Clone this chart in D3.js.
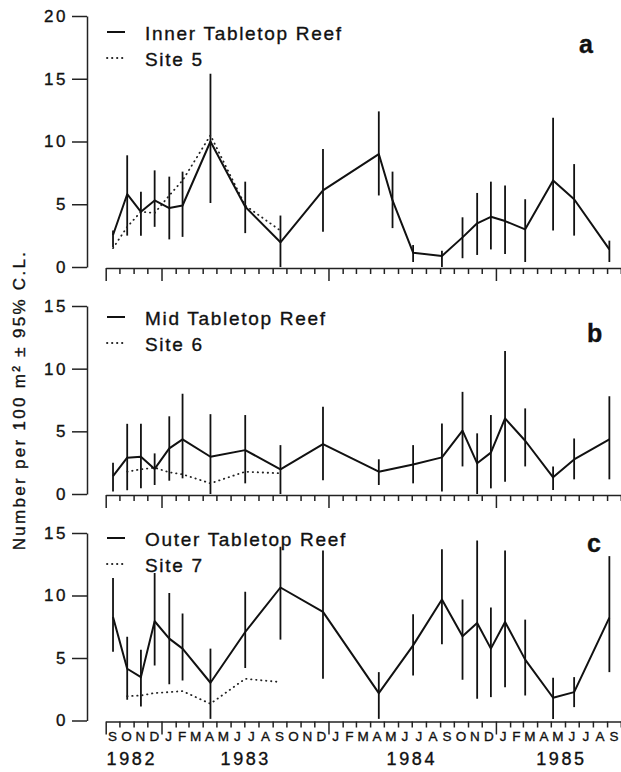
<!DOCTYPE html>
<html>
<head>
<meta charset="utf-8">
<title>Tabletop Reef</title>
<script src="https://d3js.org/d3.v7.min.js"></script>
<style>
  body { margin: 0; background: #fff; }
  svg text { font-family: "Liberation Sans", Arial, sans-serif; fill: #111; stroke: #111; stroke-width: 0.35px; }
</style>
</head>
<body>
<script>
  // sampling dates
  var datesInner = ["1982-09-17","1982-10-18","1982-11-17","1982-12-17","1983-01-18","1983-02-16",
                    "1983-04-18","1983-07-03","1983-09-18","1983-12-20","1984-04-20","1984-05-20",
                    "1984-07-04","1984-09-05","1984-10-20","1984-11-21","1984-12-21","1985-01-21",
                    "1985-03-06","1985-05-06","1985-06-21","1985-09-06"];
  var datesReef = ["1982-09-17","1982-10-18","1982-11-17","1982-12-17","1983-01-18","1983-02-16",
                   "1983-04-18","1983-07-03","1983-09-18","1983-12-20","1984-04-20",
                   "1984-07-04","1984-09-05","1984-10-20","1984-11-21","1984-12-21","1985-01-21",
                   "1985-03-06","1985-05-06","1985-06-21","1985-09-06"];
  var datesSite5 = ["1982-09-17","1982-10-18","1982-11-17","1982-12-17","1983-01-18","1983-02-16",
                    "1983-04-18","1983-07-03","1983-09-18"];
  var datesSite67 = ["1982-10-18","1982-11-17","1982-12-17","1983-01-18","1983-02-16",
                     "1983-04-18","1983-07-03","1983-09-18"];

  // a - Inner Tabletop Reef
  var innerMean = [2.55,5.8,4.4,5.3,4.7,4.9,10.0,4.8,1.97,6.1,9.0,5.3,1.14,0.88,2.36,3.48,4.0,3.66,3.0,6.9,5.4,1.4];
  var innerLow  = [1.6,2.5,2.5,3.2,2.2,2.4,5.1,2.7,0,2.8,5.7,3.1,0.4,0,0.7,0.96,1.4,1.03,0.4,2.9,2.5,0.4];
  var innerHigh = [2.9,8.9,6.0,7.7,7.2,7.6,15.4,6.8,4.1,9.4,12.4,7.6,1.75,1.3,3.96,5.9,6.8,6.5,5.4,11.9,8.2,2.1];
  var site5     = [1.5,3.2,4.4,4.3,5.7,6.9,10.5,4.9,2.9];

  // b - Mid Tabletop Reef
  var midMean = [1.43,2.9,2.97,2.0,3.64,4.36,2.97,3.5,1.97,3.98,1.78,2.36,2.92,5.05,2.45,3.3,6.03,4.25,1.33,2.76,4.36];
  var midLow  = [0.2,0.3,0.45,0.72,1.06,1.25,0,0.85,0,1.1,0.72,0.85,0.2,2.2,0,0.45,0.98,2.2,0.32,1.17,1.17];
  var midHigh = [2.5,5.6,5.6,3.24,6.2,8.0,6.37,6.3,3.9,6.96,2.77,3.9,5.63,8.15,4.84,6.3,11.4,6.83,2.2,4.43,7.8];
  var site6   = [1.78,1.97,2.1,1.73,1.57,0.85,1.78,1.65];

  // c - Outer Tabletop Reef
  var outerMean = [8.28,4.14,3.47,7.94,6.55,5.75,3.02,7.08,10.64,8.69,2.19,6.01,9.68,6.74,7.8,5.75,7.88,4.87,1.82,2.27,8.23];
  var outerLow  = [5.5,1.66,1.12,4.4,2.9,3.2,0.13,4.2,6.47,3.34,0.13,3.6,6.1,3.26,1.74,1.87,2.67,2.0,0.13,1.07,3.87];
  var outerHigh = [11.4,6.7,5.67,11.8,10.2,8.56,5.75,10.3,13.9,13.6,3.87,8.5,13.7,9.68,14.4,9.04,13.6,8.07,3.42,3.47,13.15];
  var site7     = [1.95,2.0,2.2,2.27,2.35,1.34,3.34,3.07];

  var yearLabels = ["1982","1983","1984","1985"];
  var yearDates  = ["1982-09-03","1983-05-10","1984-05-07","1985-03-30"];

  var parse = d3.timeParse("%Y-%m-%d");
  var start = new Date(1982, 8, 1), end = new Date(1985, 9, 1);

  var width = 621, height = 772;
  var svg = d3.select("body").append("svg")
      .attr("width", width)
      .attr("height", height);

  var x = d3.scaleTime().domain([start, end]).range([105.7, 620.8]);

  var panels = [
    {letter:"a", name:"Inner Tabletop Reef", site:"Site 5", dates:datesInner, mean:innerMean, lo:innerLow, hi:innerHigh,
     siteDates:datesSite5, siteVals:site5, yMax:20, top:16, bottom:267, legendY:32, letterX:579, letterY:53},
    {letter:"b", name:"Mid Tabletop Reef", site:"Site 6", dates:datesReef, mean:midMean, lo:midLow, hi:midHigh,
     siteDates:datesSite67, siteVals:site6, yMax:15, top:306, bottom:494, legendY:317, letterX:587, letterY:342},
    {letter:"c", name:"Outer Tabletop Reef", site:"Site 7", dates:datesReef, mean:outerMean, lo:outerLow, hi:outerHigh,
     siteDates:datesSite67, siteVals:site7, yMax:15, top:533, bottom:720.5, legendY:538, letterX:587, letterY:552}
  ];

  panels.forEach(function(p, pi) {
    var y = d3.scaleLinear().domain([0, p.yMax]).range([p.bottom, p.top]);
    var g = svg.append("g");

    // y axis
    var ya = g.append("g")
        .attr("transform", "translate(87,0)")
        .call(d3.axisLeft(y).tickValues(d3.range(0, p.yMax + 1, 5)).tickSize(15).tickSizeOuter(0).tickPadding(4));
    ya.selectAll("path, line").attr("stroke", "#222").attr("stroke-width", 1.5);
    ya.selectAll("text").attr("font-size", 17).style("letter-spacing", "2.5px").attr("fill", "#111");

    // x axis, ticks at month boundaries, long ones at year starts
    var xa = g.append("g")
        .attr("transform", "translate(0," + (p.bottom + 1) + ")")
        .call(d3.axisBottom(x).ticks(d3.timeMonth.every(1)).tickSize(6).tickSizeOuter(0).tickFormat(""));
    xa.selectAll("path, line").attr("stroke", "#222").attr("stroke-width", 1.5);
    xa.selectAll(".tick line").attr("y2", function(d) {
      return (d.getMonth() === 0 || +d === +start) ? 13 : 6;
    });

    // error bars
    g.selectAll(".bar").data(p.dates).enter().append("line")
        .attr("x1", function(d) { return x(parse(d)); })
        .attr("x2", function(d) { return x(parse(d)); })
        .attr("y1", function(d, i) { return y(p.lo[i]); })
        .attr("y2", function(d, i) { return y(p.hi[i]); })
        .attr("stroke", "#111")
        .attr("stroke-width", 1.8);

    // site series (dotted)
    var siteLine = d3.line()
        .x(function(d) { return x(parse(d)); })
        .y(function(d, i) { return y(p.siteVals[i]); });
    g.append("path")
        .attr("d", siteLine(p.siteDates))
        .attr("fill", "none")
        .attr("stroke", "#222")
        .attr("stroke-width", 1.8)
        .attr("stroke-linecap", "round")
        .attr("stroke-dasharray", "0.4,4.6");

    // reef series (solid)
    var reefLine = d3.line()
        .x(function(d) { return x(parse(d)); })
        .y(function(d, i) { return y(p.mean[i]); });
    g.append("path")
        .attr("d", reefLine(p.dates))
        .attr("fill", "none")
        .attr("stroke", "#111")
        .attr("stroke-width", 2)
        .attr("stroke-linejoin", "round");

    // legend
    g.append("line").attr("x1", 107).attr("x2", 125).attr("y1", p.legendY).attr("y2", p.legendY)
        .attr("stroke", "#111").attr("stroke-width", 2);
    g.append("line").attr("x1", 107).attr("x2", 126).attr("y1", p.legendY + 26).attr("y2", p.legendY + 26)
        .attr("stroke", "#222").attr("stroke-width", 1.8).attr("stroke-linecap", "round")
        .attr("stroke-dasharray", "0.4,4.6");
    g.append("text").attr("x", 145).attr("y", p.legendY + 7.5)
        .attr("font-size", 19).style("letter-spacing", "1.7px").text(p.name);
    g.append("text").attr("x", 145).attr("y", p.legendY + 33.5)
        .attr("font-size", 19).style("letter-spacing", "1.7px").text(p.site);

    // panel letter
    g.append("text").attr("x", p.letterX).attr("y", p.letterY)
        .attr("font-size", 25).attr("font-weight", "bold").text(p.letter);

    // month letters and years under the last panel
    if (pi === panels.length - 1) {
      g.selectAll(".mon").data(d3.timeMonth.range(start, end)).enter().append("text")
          .attr("x", function(d) { return x(new Date(+d + (d3.timeMonth.offset(d, 1) - d) / 2)); })
          .attr("y", p.bottom + 20)
          .attr("text-anchor", "middle")
          .attr("font-size", 13.5)
          .text(function(d) { return d3.timeFormat("%b")(d).charAt(0); });
      g.selectAll(".yr").data(yearLabels).enter().append("text")
          .attr("x", function(d, i) { return x(parse(yearDates[i])); })
          .attr("y", 765)
          .attr("font-size", 18)
          .style("letter-spacing", "2.6px")
          .text(function(d) { return d; });
    }
  });

  // y axis title
  svg.append("text")
      .attr("transform", "translate(25,400) rotate(-90)")
      .attr("text-anchor", "middle")
      .attr("font-size", 17)
      .style("letter-spacing", "2.3px")
      .text("Number per 100 m\u00B2 \u00B1 95% C.L.");
</script>
</body>
</html>
